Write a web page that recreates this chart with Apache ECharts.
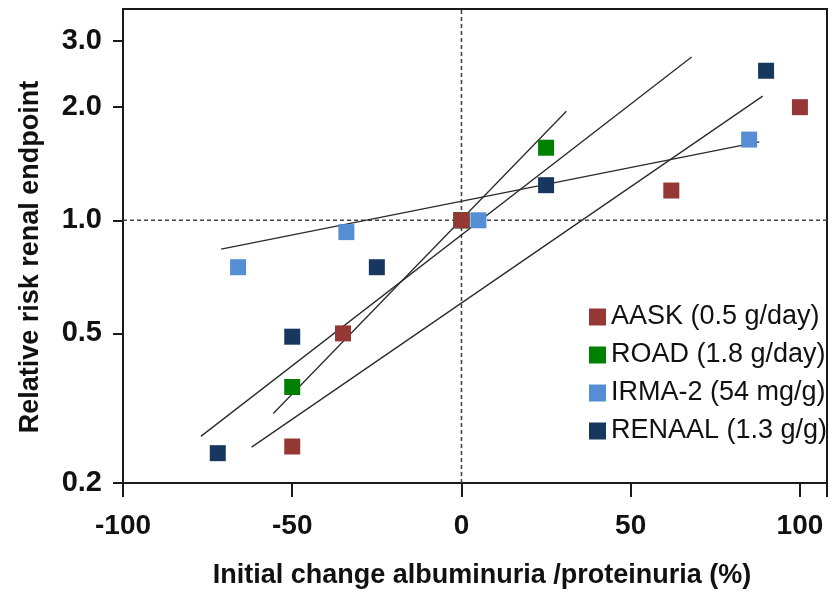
<!DOCTYPE html>
<html>
<head>
<meta charset="utf-8">
<script src="https://cdn.jsdelivr.net/npm/echarts@6/dist/echarts.min.js"></script>
<style>html,body{margin:0;padding:0;background:#fff}#c{width:833px;height:594px}</style>
</head>
<body>
<div id="c"></div>
<script>
// Data: [initial change %, relative risk]
const aask   = [[0, 1.0], [-35, 0.5], [-50, 0.25], [62, 1.2], [100, 2.0]];
const road   = [[0, 1.0], [25, 1.56], [-50, 0.36]];
const irma2  = [[-66, 0.75], [-34, 0.93], [5, 1.0], [85, 1.64]];
const renaal = [[0, 1.0], [-72, 0.24], [-50, 0.49], [-25, 0.75], [25, 1.24], [90, 2.5]];

// Regression (fit) lines: endpoints
const fitAask   = [[-62, 0.249], [89, 2.14]];
const fitRoad   = [[-55.6, 0.306], [31, 1.95]];
const fitIrma2  = [[-71, 0.838], [88, 1.616]];
const fitRenaal = [[-77, 0.266], [68, 2.72]];

const refVertical = [[0, 0.2], [0, 3.65]];
const refHorizontal = [[-100, 1.0], [108, 1.0]];

const seriesNames = ['AASK (0.5 g/day)', 'ROAD (1.8 g/day)', 'IRMA-2 (54 mg/g)', 'RENAAL (1.3 g/g)'];
const colors = ['#953735', '#008000', '#558ED5', '#17375E'];
const yTicks = [0.2, 0.5, 1, 2, 3];
const xTicks = [-100, -50, 0, 50, 100];

const FONT = '"Liberation Sans", Arial, sans-serif';
const chart = echarts.init(document.getElementById('c'), null, {renderer: 'canvas'});

function fit(name, data) {
  return {name: name, type: 'line', data: data, symbol: 'none', silent: true, z: 3,
    lineStyle: {color: '#2a2a2a', width: 1.3}};
}
function ref(name, data) {
  return {name: name, type: 'line', data: data, symbol: 'none', silent: true, z: 2,
    lineStyle: {color: '#444', width: 1.6, type: [4, 3]}};
}
function pts(i, data, z) {
  return {name: seriesNames[i], type: 'scatter', data: data, symbol: 'rect', symbolSize: 16,
    itemStyle: {color: colors[i], opacity: 1}, z: z};
}

chart.setOption({
  animation: false,
  textStyle: {fontFamily: FONT},
  grid: {left: 123, top: 9, right: 6, bottom: 108, show: true, borderColor: '#1a1a1a', borderWidth: 2, containLabel: false},
  legend: {
    data: seriesNames, orient: 'vertical', left: 584, top: 297,
    itemWidth: 17, itemHeight: 17, itemGap: 8, icon: 'rect',
    textStyle: {fontFamily: FONT, fontSize: 27, color: '#111', lineHeight: 30}
  },
  xAxis: {
    type: 'value', min: -100, max: 108, interval: 50,
    name: 'Initial change albuminuria /proteinuria (%)', nameLocation: 'middle', nameGap: 79,
    nameTextStyle: {fontFamily: FONT, fontSize: 27, fontWeight: 'bold', color: '#111', padding: [0, 0, 0, 14]},
    axisLine: {show: true, onZero: false, lineStyle: {color: '#1a1a1a', width: 2}},
    axisTick: {show: true, length: 14, lineStyle: {color: '#1a1a1a', width: 2}},
    axisLabel: {fontFamily: FONT, fontSize: 28, fontWeight: 'bold', color: '#111', margin: 29,
      customValues: xTicks, formatter: v => String(v)},
    splitLine: {show: false}
  },
  yAxis: {
    type: 'log', logBase: 10, min: 0.1999, max: 3.65,
    name: 'Relative risk renal endpoint', nameLocation: 'middle', nameGap: 79,
    nameTextStyle: {fontFamily: FONT, fontSize: 27, fontWeight: 'bold', color: '#111', padding: [0, 22, 0, 0]},
    axisLine: {show: true, onZero: false, lineStyle: {color: '#1a1a1a', width: 2}},
    axisTick: {show: true, length: 10, customValues: yTicks, lineStyle: {color: '#1a1a1a', width: 2}},
    axisLabel: {fontFamily: FONT, fontSize: 29, fontWeight: 'bold', color: '#111', margin: 21,
      customValues: yTicks, formatter: v => Number(v).toFixed(1)},
    splitLine: {show: false}
  },
  series: [
    ref('refV', refVertical),
    ref('refH', refHorizontal),
    fit('AASK fit', fitAask),
    fit('ROAD fit', fitRoad),
    fit('IRMA-2 fit', fitIrma2),
    fit('RENAAL fit', fitRenaal),
    pts(3, renaal, 4),
    pts(1, road, 5),
    pts(2, irma2, 6),
    pts(0, aask, 7)
  ]
});
</script>
</body>
</html>
